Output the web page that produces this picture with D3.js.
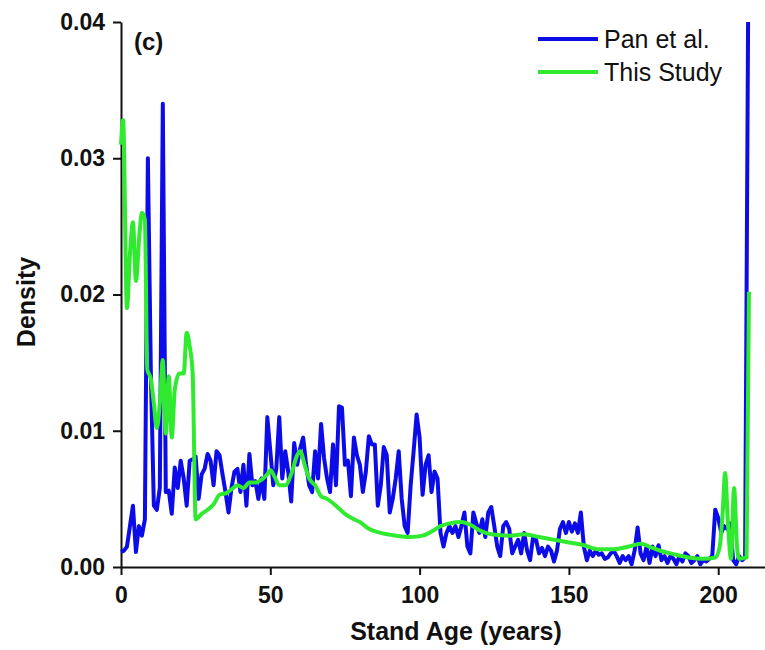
<!DOCTYPE html>
<html>
<head>
<meta charset="utf-8">
<script src="https://cdn.jsdelivr.net/npm/d3@7"></script>
<style>
  body { margin: 0; background: #fff; }
  svg { display: block; font-family: Arial, "Liberation Sans", sans-serif; }
  .axis path, .axis line { stroke: #111; stroke-width: 2; }
  .axis text { font-size: 23px; font-weight: bold; fill: #111; }
</style>
</head>
<body>
<div class="chart"></div>
<script>
// Pan et al. density, one value per stand age year (index = year, 0..210)
const panDensity = [
  0.0011, 0.0012, 0.0015, 0.003, 0.0045, 0.0011, 0.003, 0.0023, 0.0035, 0.030,
  0.0142, 0.0045, 0.0042, 0.0058, 0.034, 0.0055, 0.0056, 0.0039, 0.0073, 0.0058,
  0.0078, 0.0065, 0.0045, 0.0078, 0.0079, 0.0081, 0.005, 0.0068, 0.0072, 0.0083,
  0.0078, 0.006, 0.0085, 0.0082, 0.0068, 0.0055, 0.004, 0.0058, 0.007, 0.0072,
  0.0055, 0.0075, 0.0045, 0.0083, 0.006, 0.0063, 0.005, 0.0065, 0.005, 0.011,
  0.0085, 0.006, 0.0072, 0.011, 0.0065, 0.0085, 0.007, 0.0048, 0.0091, 0.0075,
  0.0087, 0.0095, 0.0075, 0.006, 0.0055, 0.0085, 0.0065, 0.0105, 0.008, 0.0065,
  0.0055, 0.009, 0.006, 0.0118, 0.0117, 0.0075, 0.0078, 0.0052, 0.0095, 0.0082,
  0.0075, 0.0055, 0.007, 0.0096, 0.009, 0.009, 0.0045, 0.006, 0.0088, 0.0082,
  0.004, 0.005, 0.0065, 0.0085, 0.005, 0.003, 0.0025, 0.006, 0.0085, 0.0112,
  0.0095, 0.0053, 0.0075, 0.0082, 0.0055, 0.007, 0.0065, 0.0025, 0.0015, 0.0025,
  0.003, 0.0025, 0.003, 0.0022, 0.003, 0.004, 0.0015, 0.001, 0.004, 0.0032,
  0.0025, 0.0035, 0.0022, 0.004, 0.0044, 0.003, 0.0015, 0.0008, 0.003, 0.0033,
  0.0028, 0.001, 0.0015, 0.002, 0.001, 0.0025, 0.0012, 0.0005, 0.0022, 0.002,
  0.001, 0.0014, 0.0008, 0.0015, 0.0012, 0.0004, 0.0012, 0.0028, 0.0033, 0.0025,
  0.0033, 0.0026, 0.0032, 0.0025, 0.004, 0.0015, 0.0005, 0.0012, 0.0008, 0.0012,
  0.0009, 0.001, 0.0006, 0.0007, 0.001, 0.0012, 0.0008, 0.0003, 0.0008, 0.0005,
  0.0008, 0.0002, 0.0012, 0.0029, 0.001, 0.0005, 0.0015, 0.0003, 0.0015, 0.0008,
  0.0016, 0.0005, 0.0008, 0.0003, 0.0008, 0.0006, 0.0002, 0.0008, 0.0004, 0.001,
  0.0008, 0.0003, 0.0005, 0.0008, 0.0002, 0.0005, 0.0004, 0.0006, 0.0008, 0.0042,
  0.0036, 0.0025, 0.003, 0.0028, 0.0032, 0.0005, 0.0002, 0.0008, 0.0005, 0.0007,
  0.04
];

// This Study density, read at irregular ages
const studyAge = [
  0, 0.7, 2, 3, 4, 5, 6.2, 7, 8, 8.8,
  10, 11, 12, 13, 14, 15, 16, 17, 18, 19.5,
  21, 22, 23, 24, 25, 27, 29, 31, 33, 35,
  37, 39, 41, 43, 45, 47, 49, 50, 51.5, 53,
  55, 57, 59, 60, 61.5, 63, 65, 67, 69, 72,
  75, 78, 80, 83, 87, 92, 97, 101, 104, 107,
  110, 114, 117, 120, 124, 130, 135, 140, 145, 150,
  155, 160, 165, 170, 174, 178, 182, 186, 190, 195,
  199, 200.5, 201.5, 202.3, 203.3, 204.3, 205.3, 206.3, 207, 209.5,
  210.3
];
const studyDensity = [
  0.031, 0.0328, 0.019, 0.023, 0.0253, 0.021, 0.0245, 0.026, 0.0255, 0.0145,
  0.0138, 0.012, 0.0102, 0.012, 0.0152, 0.0098, 0.014, 0.0095, 0.013, 0.0142,
  0.0142, 0.0172, 0.0162, 0.0142, 0.0035, 0.0039, 0.0042, 0.0046, 0.0053, 0.0054,
  0.0057, 0.006, 0.0058, 0.0062, 0.0062, 0.0064, 0.0068, 0.0071, 0.0066, 0.006,
  0.006, 0.0068, 0.0082, 0.0085, 0.0075, 0.0065, 0.006, 0.0052, 0.005, 0.0045,
  0.0039, 0.0035, 0.0033, 0.0028, 0.0025, 0.0023, 0.0022, 0.0023, 0.0026, 0.003,
  0.0032, 0.0033, 0.0031, 0.0027, 0.0024, 0.0023, 0.0024, 0.0022, 0.002, 0.0018,
  0.0016, 0.0013, 0.0013, 0.0015, 0.0017, 0.0014, 0.0011, 0.0009, 0.0007, 0.0006,
  0.0007, 0.0015, 0.004, 0.0069, 0.003, 0.0006, 0.0058, 0.0015, 0.0006, 0.0007,
  0.0202
];

const xTicks = [0, 50, 100, 150, 200];
const yTicks = [0, 0.01, 0.02, 0.03, 0.04];
const seriesNames = ['Pan et al.', 'This Study'];
const seriesColors = ['#0c0ce8', '#30ea30'];

const width = 765, height = 650;

let svg = d3.select('.chart')
  .append('svg')
  .attr('width', width)
  .attr('height', height)

let x = d3.scaleLinear()
  .domain([0, 216])
  .range([121, 766])

let y = d3.scaleLinear()
  .domain([0, 0.04])
  .range([567, 22])

// axes
svg.append('g')
  .attr('class', 'axis')
  .attr('transform', 'translate(0,' + y(0) + ')')
  .call(d3.axisBottom(x).tickValues(xTicks).tickFormat(d3.format('d'))
    .tickSize(8).tickSizeOuter(0).tickPadding(12))

svg.append('g')
  .attr('class', 'axis')
  .attr('transform', 'translate(' + x(0) + ',0)')
  .call(d3.axisLeft(y).tickValues(yTicks).tickFormat(d3.format('.2f'))
    .tickSize(8).tickSizeOuter(0).tickPadding(8))

// lines
let line = d3.line()
  .x(d => x(d[0]))
  .y(d => y(d[1]))

let panPoints = panDensity.map((v, i) => [i, v])
let studyPoints = studyAge.map((a, i) => [a, studyDensity[i]])

svg.append('path')
  .datum(panPoints)
  .attr('d', line)
  .style('fill', 'none')
  .style('stroke', seriesColors[0])
  .style('stroke-width', 4)
  .style('stroke-linejoin', 'round')

svg.append('path')
  .datum(studyPoints)
  .attr('d', line.curve(d3.curveMonotoneX))
  .style('fill', 'none')
  .style('stroke', seriesColors[1])
  .style('stroke-width', 4)
  .style('stroke-linejoin', 'round')

// axis titles
svg.append('text')
  .attr('x', 456)
  .attr('y', 640)
  .attr('text-anchor', 'middle')
  .style('font-size', '25px')
  .style('font-weight', 'bold')
  .style('fill', '#111')
  .text('Stand Age (years)')

svg.append('text')
  .attr('transform', 'translate(35,302) rotate(-90)')
  .attr('text-anchor', 'middle')
  .style('font-size', '25px')
  .style('font-weight', 'bold')
  .style('fill', '#111')
  .text('Density')

// panel tag
svg.append('text')
  .attr('x', 134)
  .attr('y', 50)
  .style('font-size', '24px')
  .style('font-weight', 'bold')
  .style('fill', '#111')
  .text('(c)')

// legend
let legend = svg.append('g').selectAll('g')
  .data(seriesNames)
  .enter()
  .append('g')
  .attr('transform', (d, i) => 'translate(0,' + (39 + i * 33) + ')')

legend.append('line')
  .attr('x1', 538)
  .attr('x2', 598)
  .style('stroke', (d, i) => seriesColors[i])
  .style('stroke-width', 4)

legend.append('text')
  .attr('x', 604)
  .attr('y', 9)
  .style('font-size', '25px')
  .style('fill', '#111')
  .text(d => d)
</script>
</body>
</html>
